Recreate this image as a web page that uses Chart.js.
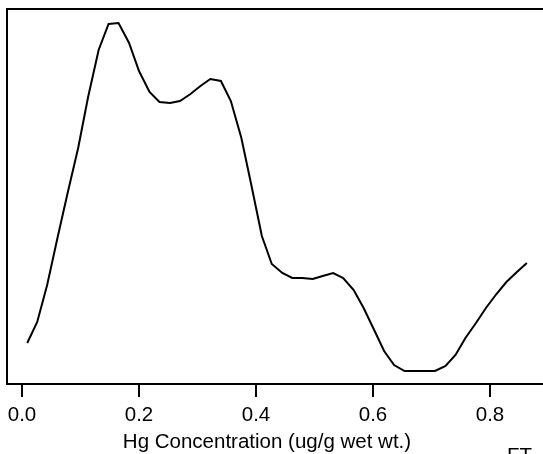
<!DOCTYPE html>
<html>
<head>
<meta charset="utf-8">
<script src="https://cdn.jsdelivr.net/npm/chart.js@4/dist/chart.umd.min.js"></script>
<style>
  html, body { margin: 0; padding: 0; background: #fff; overflow: hidden; }
  #wrap { width: 543px; height: 454px; position: relative; }
</style>
</head>
<body>
<div id="wrap"><canvas id="c" width="543" height="454"></canvas></div>
<script>
// Hg concentration (ug/g wet wt.)
const hgConc = [0.009, 0.026, 0.043, 0.061, 0.078, 0.096, 0.113, 0.131, 0.148, 0.165,
                0.183, 0.200, 0.218, 0.235, 0.253, 0.270, 0.288, 0.305, 0.322, 0.340,
                0.357, 0.375, 0.392, 0.410, 0.427, 0.445, 0.462, 0.479, 0.497, 0.514,
                0.532, 0.549, 0.567, 0.584, 0.602, 0.619, 0.636, 0.654, 0.671, 0.689,
                0.706, 0.724, 0.741, 0.758, 0.776, 0.793, 0.811, 0.828, 0.846, 0.863];
// Estimated density (arbitrary units)
const density = [0.41, 0.62, 0.99, 1.47, 1.91, 2.36, 2.87, 3.34, 3.60, 3.61,
                 3.41, 3.13, 2.92, 2.82, 2.81, 2.83, 2.90, 2.98, 3.05, 3.03,
                 2.83, 2.46, 1.99, 1.48, 1.20, 1.11, 1.06, 1.06, 1.05, 1.08,
                 1.11, 1.06, 0.94, 0.76, 0.54, 0.33, 0.19, 0.13, 0.13, 0.13,
                 0.13, 0.18, 0.29, 0.46, 0.61, 0.76, 0.90, 1.02, 1.12, 1.21];
const xTicks = [0.0, 0.2, 0.4, 0.6, 0.8];
const xTitle = 'Hg Concentration (ug/g wet wt.)';
const cornerText = 'FT';

const FONT = '"Liberation Sans", Arial, Helvetica, sans-serif';
const FSIZE = 20.5;

const framePlugin = {
  id: 'frame',
  afterDraw(chart) {
    const {ctx, chartArea: a} = chart;
    ctx.save();
    ctx.strokeStyle = '#000';
    ctx.lineWidth = 2;
    ctx.beginPath();
    ctx.moveTo(chart.width + 2, a.top);
    ctx.lineTo(a.left, a.top);
    ctx.lineTo(a.left, a.bottom);
    ctx.lineTo(chart.width + 2, a.bottom);
    ctx.stroke();
    ctx.fillStyle = '#000';
    ctx.font = FSIZE + 'px ' + FONT;
    ctx.textAlign = 'center';
    ctx.textBaseline = 'alphabetic';
    ctx.fillText(xTitle, 267, 448);
    ctx.textAlign = 'left';
    ctx.fillText(cornerText, 507, 462);
    ctx.restore();
  }
};

new Chart(document.getElementById('c'), {
  type: 'line',
  data: {
    datasets: [{
      data: hgConc.map((x, i) => ({x: x, y: density[i]})),
      borderColor: '#000',
      borderWidth: 2,
      pointRadius: 0,
      tension: 0,
      fill: false
    }]
  },
  options: {
    responsive: false,
    animation: false,
    events: [],
    layout: { padding: { left: 7, top: 9, right: 0, bottom: 0 } },
    plugins: { legend: { display: false }, tooltip: { enabled: false } },
    scales: {
      x: {
        type: 'linear',
        min: -15 / 585,
        max: 521 / 585,
        afterFit(s) { s.height = 70; },
        afterBuildTicks(s) { s.ticks = xTicks.map(v => ({value: v})); },
        border: { display: false },
        grid: {
          display: true,
          drawOnChartArea: false,
          drawTicks: true,
          tickLength: 13,
          lineWidth: 2,
          color: '#000'
        },
        ticks: {
          color: '#000',
          font: { family: FONT, size: FSIZE },
          padding: 6,
          maxRotation: 0,
          autoSkip: false,
          callback: v => Number(v).toFixed(1)
        }
      },
      y: {
        display: false,
        min: 0,
        max: 3.75
      }
    }
  },
  plugins: [framePlugin]
});
</script>
</body>
</html>
